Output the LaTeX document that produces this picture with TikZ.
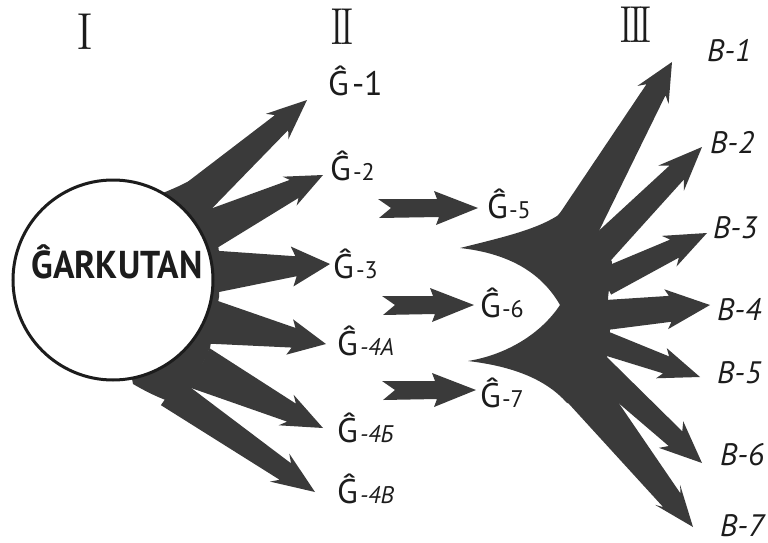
\documentclass[tikz,border=0pt]{standalone}
\usepackage{fontspec}
\usetikzlibrary{calc}
\newfontfamily\labfont{PT Sans}
\newfontfamily\romfont{Latin Modern Roman}
\definecolor{ink}{RGB}{58,58,58}
\definecolor{txt}{RGB}{28,28,28}
% base, tip, base half width, shaft half width, head length, head half width, barb sweep
\newcommand\fatarrow[7]{%
  \path ($(#2)!#5!(#1)$) coordinate (fa-h);
  \path ($(fa-h)!#7!180:(#2)$) coordinate (fa-hb);
  \fill[ink] ($(#1)!#3!90:(#2)$) -- ($(fa-h)!#4!90:(#2)$) -- ($(fa-hb)!#6!90:(#2)$) -- (#2)
     -- ($(fa-hb)!#6!-90:(#2)$) -- ($(fa-h)!#4!-90:(#2)$) -- ($(#1)!#3!-90:(#2)$) -- cycle;}
% horizontal block arrow with notched tail
\newcommand\blockarrow[2]{%
  \fill[ink] ($(#1)+(0,-9)$) -- ($(#2)+(-41,-9)$) -- ($(#2)+(-44,-17)$) -- (#2)
     -- ($(#2)+(-42,17)$) -- ($(#2)+(-39,9)$) -- ($(#1)+(1,10)$) -- ($(#1)+(13,0)$) -- cycle;}
\newcommand\suf[1]{{\fontsize{24}{24}\selectfont #1}}
\newcommand\sufi[1]{{\fontsize{24}{24}\selectfont\itshape #1}}
\tikzset{
  glab/.style={anchor=base west, inner sep=0pt, text=txt, font=\labfont\fontsize{34}{34}\selectfont},
  blab/.style={anchor=base west, inner sep=0pt, text=txt, font=\labfont\itshape\fontsize{31}{31}\selectfont},
  rom/.style={anchor=base, inner sep=0pt, text=txt, font=\romfont\fontsize{52}{52}\selectfont},
}
\begin{document}
\begin{tikzpicture}[x=1pt,y=-1pt]
\useasboundingbox (0,0) rectangle (768,543);
% ---------- coordinates ----------
\coordinate (c) at (113,280);
\coordinate (a1b) at (200,195); \coordinate (a1t) at (307,100);
\coordinate (a2b) at (205,232); \coordinate (a2t) at (323,175);
\coordinate (a3b) at (208,272); \coordinate (a3t) at (330,264);
\coordinate (a4b) at (212,322); \coordinate (a4t) at (326,344);
\coordinate (a5b) at (200,368); \coordinate (a5t) at (323,428);
\coordinate (a6b) at (170,392); \coordinate (a6t) at (315,492);
\coordinate (m5) at (378,208); \coordinate (m5t) at (478,208);
\coordinate (m6) at (382,305); \coordinate (m6t) at (474,305);
\coordinate (m7) at (382,390); \coordinate (m7t) at (476,390);
\coordinate (b1b) at (575,230); \coordinate (b1t) at (672,62);
\coordinate (b2b) at (600,250); \coordinate (b2t) at (702,147);
\coordinate (b3b) at (605,282); \coordinate (b3t) at (707,233);
\coordinate (b4b) at (606,315); \coordinate (b4t) at (710,305);
\coordinate (b5b) at (602,342); \coordinate (b5t) at (700,377);
\coordinate (b6b) at (592,362); \coordinate (b6t) at (702,463);
\coordinate (b7b) at (575,378); \coordinate (b7t) at (693,527);
% ---------- left hub and arrows ----------
\fill[ink] (c) -- (158,195) .. controls (170,190) and (180,186) .. (189,181) -- (206,184) -- (214,214) -- (219,252)
  -- (219,297) -- (210,348) -- (191,389) -- (168,401) .. controls (155,396) and (145,391) .. (133,384) -- cycle;
\fatarrow{a1b}{a1t}{18pt}{10pt}{34pt}{17pt}{6pt}
\fatarrow{a2b}{a2t}{20pt}{10pt}{32pt}{16pt}{5pt}
\fatarrow{a3b}{a3t}{22pt}{10pt}{34pt}{20pt}{4pt}
\fatarrow{a4b}{a4t}{22pt}{10pt}{33pt}{18pt}{4pt}
\fatarrow{a5b}{a5t}{22pt}{10pt}{35pt}{17pt}{6pt}
\fatarrow{a6b}{a6t}{16pt}{10pt}{36pt}{17pt}{7pt}
% ---------- circle ----------
\node[circle, draw=txt, fill=white, line width=3pt, minimum size=200pt, inner sep=0pt] (gark) at (c) {};
\node[anchor=base, inner sep=0pt, text=txt, font=\labfont\bfseries\fontsize{37}{37}\selectfont]
  (gname) at (117,278) {\scalebox{0.96}[1.05]{ĜARKUTAN}};
% ---------- middle arrows ----------
\blockarrow{m5}{m5t}
\blockarrow{m6}{m6t}
\blockarrow{m7}{m7t}
% ---------- right hub and arrows ----------
\fill[ink] (460,248) .. controls (500,238) and (535,230) .. (557,216) -- (585,190) -- (595,228) -- (612,262)
  -- (608,298) -- (610,330) -- (608,355) -- (595,377) -- (578,405) -- (567,403)
  .. controls (545,378) and (510,366) .. (468,361)
  .. controls (505,355) and (540,335) .. (560,305)
  .. controls (540,270) and (505,253) .. (460,248) -- cycle;
\fatarrow{b1b}{b1t}{22pt}{11pt}{32pt}{18pt}{6pt}
\fatarrow{b2b}{b2t}{15pt}{10pt}{36pt}{18pt}{8pt}
\fatarrow{b3b}{b3t}{14pt}{10pt}{36pt}{17pt}{6pt}
\fatarrow{b4b}{b4t}{15pt}{13pt}{40pt}{20pt}{4pt}
\fatarrow{b5b}{b5t}{12pt}{9pt}{36pt}{16pt}{5pt}
\fatarrow{b6b}{b6t}{14pt}{10pt}{36pt}{18pt}{6pt}
\fatarrow{b7b}{b7t}{22pt}{11pt}{34pt}{16pt}{7pt}
% ---------- roman numerals ----------
\node[rom] (r1) at (85,50) {I};
\node[rom] (r2) at (342,45) {\scalebox{0.8}[1]{I\kern-5ptI}};
\node[rom] (r3) at (636,43) {\scalebox{0.8}[1]{I\kern-5ptI\kern-5ptI}};
% ---------- labels ----------
\node[glab] (g1) at (328,95) {Ĝ\kern3pt-1};
\node[glab] (g2) at (330,180) {Ĝ\kern2pt\suf{-2}};
\node[glab] (g3) at (333,278) {Ĝ\kern2pt\suf{-3}};
\node[glab] (g4a) at (337,355) {Ĝ\kern2pt\sufi{-4А}};
\node[glab] (g4b) at (337,442) {Ĝ\kern2pt\sufi{-4Б}};
\node[glab] (g4v) at (337,503) {Ĝ\kern2pt\sufi{-4В}};
\node[glab] (g5) at (487,218) {Ĝ\kern1pt\suf{-5}};
\node[glab] (g6) at (480,317) {Ĝ\kern1pt\suf{-6}};
\node[glab] (g7) at (480,407) {Ĝ\kern1pt\suf{-7}};
\node[blab] (v1) at (707,62) {B-1};
\node[blab] (v2) at (710,153) {B-2};
\node[blab] (v3) at (713,238) {B-3};
\node[blab] (v4) at (717,320) {B-4};
\node[blab] (v5) at (717,383) {B-5};
\node[blab] (v6) at (720,465) {B-6};
\node[blab] (v7) at (720,536) {B-7};
\end{tikzpicture}
\end{document}
